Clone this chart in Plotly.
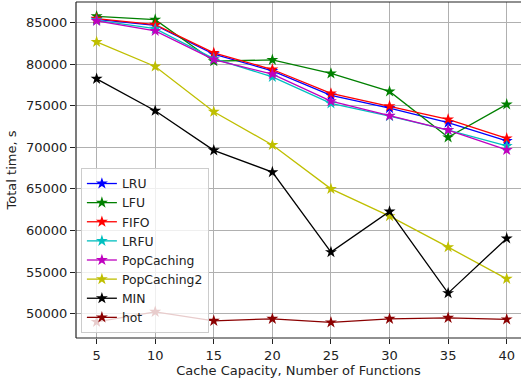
import plotly.graph_objects as go

# Cache capacity (number of functions) on the x axis
capacity = [5, 10, 15, 20, 25, 30, 35, 40]

# Total execution time (s) for each caching policy
lru = [85400, 84680, 81200, 79200, 76240, 74720, 72960, 70760]
lfu = [85760, 85360, 80360, 80520, 78880, 76720, 71200, 75160]
fifo = [85480, 84760, 81360, 79360, 76480, 74960, 73360, 71080]
lrfu = [85280, 84280, 80680, 78480, 75280, 73760, 72080, 70160]
popcaching = [85200, 84000, 80560, 78800, 75560, 73800, 72080, 69680]
popcaching2 = [82680, 79720, 74280, 70280, 65000, 61720, 57990, 54180]
min_policy = [78240, 74400, 69640, 67010, 57390, 62280, 52460, 59040]
hot = [49000, 50210, 49130, 49370, 48940, 49370, 49490, 49300]

series = [
    ("LRU", lru, "#0000ff"),
    ("LFU", lfu, "#008000"),
    ("FIFO", fifo, "#ff0000"),
    ("LRFU", lrfu, "#00bfbf"),
    ("PopCaching", popcaching, "#bf00bf"),
    ("PopCaching2", popcaching2, "#bfbf00"),
    ("MIN", min_policy, "#000000"),
    ("hot", hot, "#8b0000"),
]

x_ticks = [5, 10, 15, 20, 25, 30, 35, 40]
y_ticks = [50000, 55000, 60000, 65000, 70000, 75000, 80000, 85000]

fig = go.Figure()
for name, values, color in series:
    fig.add_trace(go.Scatter(
        x=capacity, y=values, name=name, mode="lines+markers",
        line=dict(color=color, width=1.3),
        marker=dict(symbol="star", size=9, color=color),
    ))

font = "DejaVu Sans, sans-serif"
axis_common = dict(
    showgrid=True, gridcolor="#b0b0b0", gridwidth=1,
    zeroline=False, showline=False,
    ticks="outside", ticklen=5, tickcolor="#222", tickwidth=1,
    tickfont=dict(family=font, size=13, color="#222"),
    title_font=dict(family=font, size=13, color="#222"),
)

fig.update_layout(
    width=521, height=382,
    margin=dict(l=76, r=0, t=2, b=44),
    paper_bgcolor="white", plot_bgcolor="white",
    font=dict(family=font, size=13, color="#222"),
    xaxis=dict(range=[3.24, 41.22], tickvals=x_ticks,
               title=dict(text="Cache Capacity, Number of Functions", standoff=4),
               **axis_common),
    yaxis=dict(range=[47060, 87480], tickvals=y_ticks,
               tickformat="d",
               title=dict(text="Total time, s", standoff=6),
               **axis_common),
    legend=dict(
        x=0.011, y=0.015, xanchor="left", yanchor="bottom",
        bgcolor="rgba(255,255,255,0.8)", bordercolor="#cccccc", borderwidth=1,
        font=dict(family=font, size=12.4, color="#222"),
        itemwidth=30, tracegroupgap=0,
    ),
    shapes=[
        # left, top and bottom axis spines
        dict(type="line", xref="paper", yref="paper", x0=0, x1=0, y0=0, y1=1,
             line=dict(color="#222", width=1.2)),
        dict(type="line", xref="paper", yref="paper", x0=0, x1=1, y0=1, y1=1,
             line=dict(color="#222", width=1.2)),
        dict(type="line", xref="paper", yref="paper", x0=0, x1=1, y0=0, y1=0,
             line=dict(color="#222", width=1.2)),
    ],
)

fig.write_html("out.html")
